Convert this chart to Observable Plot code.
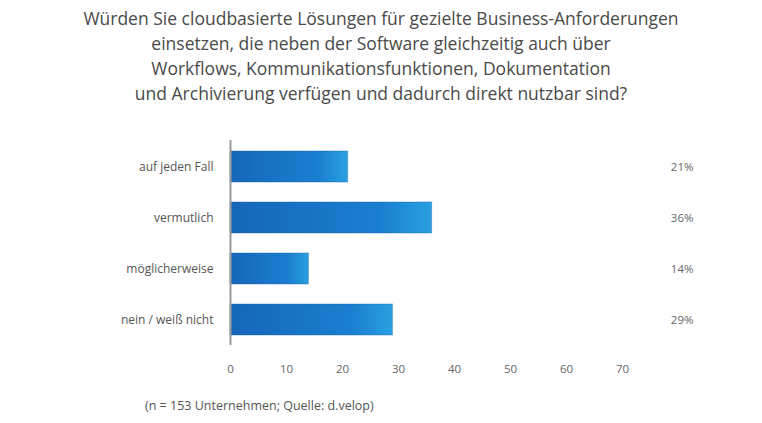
<!DOCTYPE html>
<html><head><meta charset="utf-8">
<script src="https://cdn.jsdelivr.net/npm/d3@7"></script>
<script src="https://cdn.jsdelivr.net/npm/@observablehq/plot@0.6"></script>
<style>
body{margin:0;background:#fff;font-family:"Open Sans",sans-serif;width:762px;height:423px;overflow:hidden}
#title{text-align:center;color:#4a4a4a;font-size:17.5px;line-height:25px;padding-top:6px;height:100px;white-space:nowrap}
#note{color:#555;font-size:12.5px;padding-left:145px;margin-top:12px}
</style></head><body>
<div id="title">Würden Sie cloudbasierte Lösungen für gezielte Business-Anforderungen<br>einsetzen, die neben der Software gleichzeitig auch über<br>Workflows, Kommunikationsfunktionen, Dokumentation<br>und Archivierung verfügen und dadurch direkt nutzbar sind?</div>
<div id="chart"></div>
<div id="note">(n = 153 Unternehmen; Quelle: d.velop)</div>
<script>
const categories = ["auf jeden Fall", "vermutlich", "möglicherweise", "nein / weiß nicht"];
const values = [21, 36, 14, 29];
const xTicks = [0, 10, 20, 30, 40, 50, 60, 70];

const data = categories.map((c, i) => ({cat: c, value: values[i]}));

const plot = Plot.plot({
  width: 762,
  height: 279,
  marginTop: 34,
  marginBottom: 40,
  marginLeft: 230,
  marginRight: 140,
  style: {fontFamily: "Open Sans, sans-serif", color: "#555"},
  x: {domain: [0, 70], ticks: xTicks, label: null},
  y: {domain: categories, paddingInner: 0.4, paddingOuter: 0.2, label: null},
  marks: [
    Plot.barX(data, {y: "cat", x: "value", fill: "url(#barGrad)", stroke: "#1560a8", strokeOpacity: 0.4}),
    Plot.ruleX([0], {stroke: "#9a9a9a", strokeWidth: 2}),
    Plot.axisX({ticks: xTicks, tickSize: 0, tickPadding: 19, fontSize: 11.5, fill: "#666"}),
    Plot.axisY({tickSize: 0, tickPadding: 17, fontSize: 12, fill: "#555"}),
    Plot.text(data, {y: "cat", text: d => d.value + "%", frameAnchor: "right", textAnchor: "end", dx: 71, fontSize: 11.5, fill: "#666"})
  ]
});

const svg = d3.select(plot);
const defs = svg.insert("defs", ":first-child");
const g = defs.append("linearGradient").attr("id", "barGrad").attr("x1", "0").attr("x2", "1").attr("y1", "0").attr("y2", "0");
g.append("stop").attr("offset", "0%").attr("stop-color", "#1666b8");
g.append("stop").attr("offset", "75%").attr("stop-color", "#1a7fd0");
g.append("stop").attr("offset", "100%").attr("stop-color", "#2aa0e0");
document.getElementById("chart").appendChild(plot);
</script>
</body></html>
